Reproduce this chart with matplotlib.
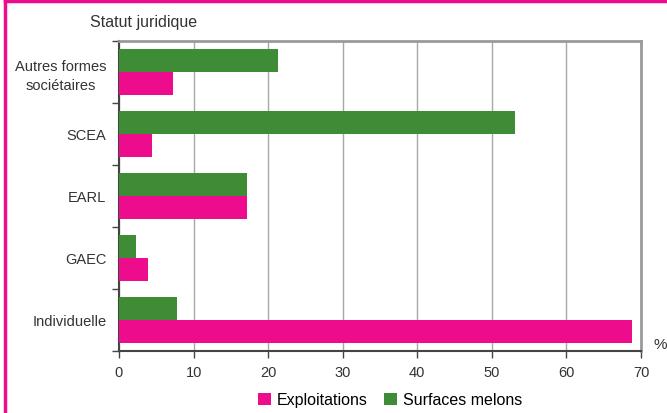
import matplotlib
matplotlib.use('Agg')
import matplotlib.pyplot as plt
from matplotlib.patches import Patch
from matplotlib.lines import Line2D
import numpy as np

plt.rcParams['font.family'] = ['Liberation Sans', 'DejaVu Sans']

# Données (en %)
categories = ['Individuelle', 'GAEC', 'EARL', 'SCEA', 'Autres formes\nsociétaires']
exploitations = [68.8, 3.9, 17.2, 4.4, 7.2]
surfaces_melons = [7.8, 2.3, 17.2, 53.1, 21.3]
xticks = [0, 10, 20, 30, 40, 50, 60, 70]

rose = '#EC0C8C'
vert = '#3E8C35'

fig = plt.figure(figsize=(6.67, 4.14), dpi=100)
ax = fig.add_axes([0.1784, 0.1498, 0.961 - 0.1784, 0.8986 - 0.1498])

y = np.arange(len(categories))
h = 0.37
ax.barh(y + h / 2, surfaces_melons, height=h, color=vert, zorder=3)
ax.barh(y - h / 2, exploitations, height=h, color=rose, zorder=3)

ax.set_xlim(0, 70)
ax.set_ylim(-0.5, len(categories) - 0.5)
ax.set_xticks(xticks)
ax.set_xticklabels([str(v) for v in xticks], fontsize=10.5, color='#333333')
ax.set_yticks(y)
ax.set_yticklabels(categories, fontsize=10.5, color='#333333')
for lbl in ax.get_yticklabels():
    lbl.set_multialignment('center')
    lbl.set_linespacing(1.45)
ax.set_yticks(np.arange(len(categories) + 1) - 0.5, minor=True)
ax.tick_params(axis='y', which='major', length=0, pad=9)
ax.tick_params(axis='y', which='minor', length=5, width=1, color='#444444')
ax.tick_params(axis='x', length=5, width=1, color='#444444', pad=5)

ax.grid(axis='x', color='#A8A8A8', linewidth=1, zorder=0)
for s in ['top', 'right']:
    ax.spines[s].set_color('#9A9A9A')
    ax.spines[s].set_linewidth(2)
for s in ['left', 'bottom']:
    ax.spines[s].set_color('#444444')
    ax.spines[s].set_linewidth(1.5)

fig.text(90 / 667, 1 - 22 / 414, 'Statut juridique', fontsize=11.5, color='#333333',
         ha='left', va='center')
fig.text(660 / 667, 1 - 345 / 414, '%', fontsize=11, color='#333333',
         ha='center', va='center')

handles = [Patch(facecolor=rose, label='Exploitations'),
           Patch(facecolor=vert, label='Surfaces melons')]
fig.legend(handles=handles, loc='center', bbox_to_anchor=(390 / 667, 1 - 401 / 414),
           ncol=2, frameon=False, fontsize=11.5, handlelength=0.8, handleheight=0.8,
           handletextpad=0.4, columnspacing=1.0)

# cadre rose
fig.add_artist(Line2D([5 / 667, 1], [1 - 2 / 414, 1 - 2 / 414], color=rose, lw=2.5,
                      transform=fig.transFigure))
fig.add_artist(Line2D([5 / 667, 5 / 667], [0, 1 - 2 / 414], color=rose, lw=2.5,
                      transform=fig.transFigure))

fig.savefig('out.png', dpi=100)
